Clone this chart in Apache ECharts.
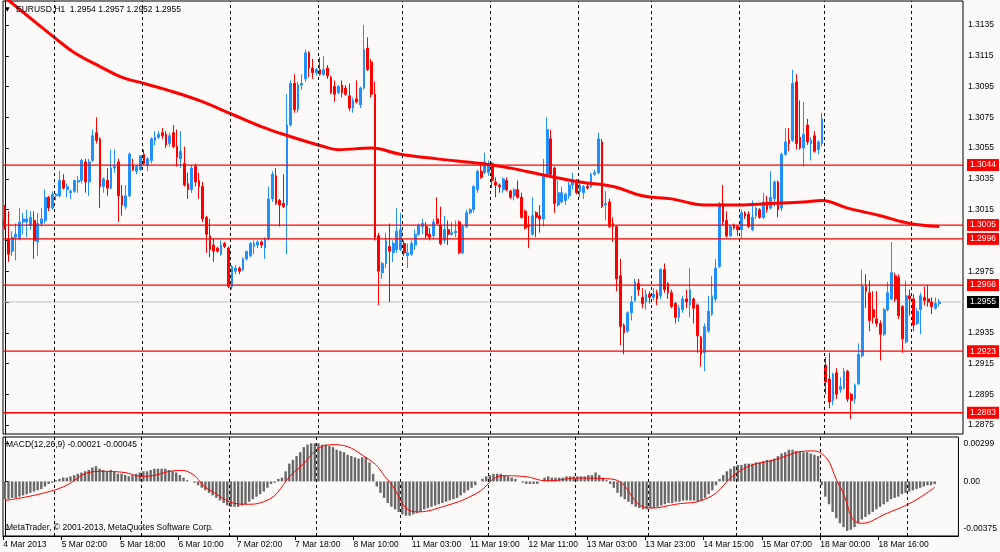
<!DOCTYPE html>
<html><head><meta charset="utf-8">
<script src="https://cdn.jsdelivr.net/npm/echarts@6/dist/echarts.min.js"></script>
<style>html,body{margin:0;padding:0;background:#fcfaf9;}#c{width:1000px;height:552px;}</style>
</head><body><div id="c"></div>
<script>
// ---- price data (EURUSD H1), bar 0 = 4 Mar 2013 10:00 ----
const opens=[1.3008,1.2996,1.2988,1.2997,1.2996,1.3007,1.3007,1.3005,1.3008,1.2994,
1.3006,1.3008,1.3023,1.3016,1.3024,1.3024,1.3034,1.3028,1.3026,1.3027,
1.3033,1.3034,1.3046,1.3033,1.3047,1.3065,1.3061,1.3030,1.3034,1.3029,
1.3042,1.3046,1.3024,1.3017,1.3024,1.3044,1.3040,1.3041,1.3051,1.3044,
1.3047,1.3060,1.3062,1.3065,1.3064,1.3058,1.3065,1.3056,1.3048,1.3045,
1.3032,1.3028,1.3043,1.3034,1.3030,1.3010,1.2998,1.2992,1.2990,1.2986,
1.2993,1.2990,1.2965,1.2975,1.2977,1.2976,1.2983,1.2985,1.2991,1.2992,
1.2994,1.2990,1.2996,1.3022,1.3037,1.3021,1.3019,1.3018,1.3070,1.3097,
1.3080,1.3096,1.3100,1.3117,1.3107,1.3104,1.3106,1.3103,1.3107,1.3101,
1.3095,1.3091,1.3096,1.3094,1.3089,1.3081,1.3087,1.3083,1.3094,1.3120,
1.3111,1.3090,1.2998,1.2974,1.2980,1.2991,1.2987,1.2989,1.2989,1.2993,
1.2985,1.2986,1.2992,1.2999,1.3004,1.3004,1.2999,1.2998,1.3009,1.3005,
1.2995,1.3002,1.2999,1.3000,1.3007,1.2987,1.3004,1.3013,1.3015,1.3028,
1.3040,1.3039,1.3039,1.3045,1.3033,1.3031,1.3028,1.3034,1.3027,1.3024,
1.3028,1.3023,1.3014,1.3005,1.2999,1.3013,1.3011,1.3009,1.3038,1.3061,
1.3042,1.3018,1.3020,1.3021,1.3024,1.3031,1.3033,1.3027,1.3026,1.3030,
1.3030,1.3038,1.3039,1.3059,1.3018,1.3020,1.3006,1.3004,1.2972,1.2940,
1.2936,1.2948,1.2956,1.2967,1.2958,1.2955,1.2960,1.2958,1.2961,1.2959,
1.2976,1.2967,1.2961,1.2954,1.2945,1.2950,1.2957,1.2953,1.2957,1.2953,
1.2932,1.2922,1.2936,1.2947,1.2957,1.2978,1.3019,1.3008,1.2998,1.3005,
1.3004,1.3002,1.3013,1.3012,1.3002,1.3011,1.3015,1.3010,1.3020,1.3016,
1.3022,1.3033,1.3016,1.3051,1.3060,1.3060,1.3098,1.3062,1.3055,1.3070,
1.3058,1.3063,1.3054,1.3058,1.2914,1.2905,1.2891,1.2909,1.2898,1.2899,
1.2910,1.2895,1.2892,1.2902,1.2920,1.2965,1.2961,1.2950,1.2944,1.2941,
1.2934,1.2950,1.2957,1.2972,1.2971,1.2952,1.2929,1.2959,1.2957,1.2941,
1.2950,1.2958,1.2957,1.2955,1.2951,1.2954];
const highs=[1.3018,1.3014,1.3001,1.3006,1.3016,1.3013,1.3015,1.3014,1.3014,1.3013,
1.3016,1.3028,1.3024,1.3027,1.3026,1.3040,1.3038,1.3032,1.3028,1.3034,
1.3037,1.3048,1.3048,1.3048,1.3067,1.3075,1.3062,1.3036,1.3042,1.3054,
1.3054,1.3048,1.3031,1.3031,1.3052,1.3048,1.3044,1.3050,1.3054,1.3049,
1.3062,1.3066,1.3066,1.3068,1.3066,1.3065,1.3070,1.3067,1.3066,1.3056,
1.3039,1.3044,1.3045,1.3039,1.3033,1.3011,1.3009,1.2996,1.2991,1.2995,
1.2994,1.2991,1.2979,1.2979,1.2978,1.2984,1.2988,1.2994,1.2995,1.2995,
1.2995,1.2997,1.3030,1.3040,1.3042,1.3022,1.3038,1.3090,1.3099,1.3103,
1.3098,1.3103,1.3119,1.3118,1.3113,1.3107,1.3114,1.3115,1.3109,1.3102,
1.3099,1.3096,1.3099,1.3096,1.3097,1.3088,1.3099,1.3095,1.3135,1.3127,
1.3113,1.3098,1.3000,1.2981,1.3000,1.3006,1.2995,1.3016,1.3013,1.2995,
1.2993,1.2995,1.3002,1.3006,1.3009,1.3007,1.3003,1.3009,1.3023,1.3017,
1.3011,1.3008,1.3007,1.3008,1.3008,1.3005,1.3015,1.3016,1.3031,1.3041,
1.3045,1.3052,1.3047,1.3046,1.3036,1.3032,1.3036,1.3036,1.3028,1.3029,
1.3034,1.3026,1.3015,1.3011,1.3023,1.3014,1.3018,1.3048,1.3075,1.3067,
1.3043,1.3034,1.3030,1.3026,1.3033,1.3039,1.3035,1.3033,1.3031,1.3032,
1.3039,1.3041,1.3065,1.3061,1.3027,1.3022,1.3010,1.3005,1.2983,1.2941,
1.2949,1.2959,1.2970,1.2970,1.2964,1.2963,1.2962,1.2964,1.2963,1.2977,
1.2980,1.2968,1.2963,1.2955,1.2953,1.2959,1.2963,1.2977,1.2958,1.2954,
1.2933,1.2941,1.2959,1.2972,1.2983,1.3020,1.3031,1.3014,1.3005,1.3006,
1.3005,1.3015,1.3014,1.3014,1.3021,1.3017,1.3016,1.3026,1.3024,1.3040,
1.3034,1.3034,1.3052,1.3068,1.3068,1.3106,1.3103,1.3086,1.3085,1.3074,
1.3062,1.3066,1.3060,1.3078,1.2919,1.2922,1.2909,1.2912,1.2906,1.2912,
1.2911,1.2896,1.2902,1.2928,1.2976,1.2973,1.2969,1.2962,1.2962,1.2943,
1.2951,1.2968,1.2994,1.2974,1.2973,1.2953,1.2969,1.2963,1.2960,1.2951,
1.2961,1.2965,1.2966,1.2958,1.2958,1.2957];
const lows=[1.3002,1.2981,1.2985,1.2982,1.2995,1.2999,1.2997,1.3002,1.2983,1.2985,
1.3004,1.3006,1.3014,1.3015,1.3021,1.3023,1.3028,1.3023,1.3022,1.3026,
1.3026,1.3032,1.3026,1.3024,1.3046,1.3058,1.3016,1.3026,1.3024,1.3028,
1.3039,1.3007,1.3011,1.3015,1.3023,1.3040,1.3038,1.3040,1.3044,1.3040,
1.3045,1.3057,1.3061,1.3061,1.3055,1.3056,1.3055,1.3043,1.3042,1.3030,
1.3022,1.3026,1.3030,1.3022,1.3007,1.2987,1.2984,1.2981,1.2987,1.2985,
1.2990,1.2964,1.2963,1.2973,1.2973,1.2975,1.2982,1.2984,1.2986,1.2990,
1.2990,1.2983,1.2995,1.3020,1.3018,1.3004,1.3016,1.2986,1.3069,1.3078,
1.3078,1.3093,1.3098,1.3101,1.3100,1.3102,1.3102,1.3102,1.3100,1.3090,
1.3085,1.3090,1.3088,1.3089,1.3079,1.3078,1.3084,1.3081,1.3093,1.3105,
1.3088,1.2995,1.2953,1.2970,1.2977,1.2955,1.2981,1.2987,1.2988,1.2985,
1.2977,1.2985,1.2989,1.2998,1.2999,1.2996,1.2995,1.2996,1.3006,1.2992,
1.2993,1.2992,1.2998,1.2997,1.2986,1.2986,1.3003,1.3012,1.3013,1.3026,
1.3035,1.3038,1.3037,1.3029,1.3023,1.3026,1.3026,1.3027,1.3022,1.3021,
1.3022,1.3009,1.3002,1.2990,1.2998,1.2997,1.3000,1.3004,1.3037,1.3037,
1.3013,1.3017,1.3019,1.3018,1.3022,1.3028,1.3025,1.3023,1.3022,1.3028,
1.3029,1.3037,1.3038,1.3016,1.3008,1.3003,1.2994,1.2962,1.2927,1.2921,
1.2935,1.2943,1.2955,1.2959,1.2951,1.2950,1.2954,1.2956,1.2953,1.2957,
1.2961,1.2957,1.2951,1.2941,1.2942,1.2948,1.2951,1.2945,1.2941,1.2922,
1.2913,1.2910,1.2935,1.2946,1.2955,1.2977,1.3005,1.2997,1.2997,1.3002,
1.2998,1.2996,1.3009,1.3003,1.3001,1.3009,1.3009,1.3009,1.3013,1.3015,
1.3017,1.3010,1.3014,1.3050,1.3053,1.3059,1.3054,1.3054,1.3043,1.3057,
1.3047,1.3052,1.3051,1.3056,1.2895,1.2886,1.2888,1.2892,1.2896,1.2898,
1.2890,1.2879,1.2889,1.2901,1.2919,1.2951,1.2936,1.2941,1.2939,1.2917,
1.2933,1.2949,1.2956,1.2955,1.2944,1.2922,1.2928,1.2946,1.2936,1.2940,
1.2934,1.2953,1.2952,1.2947,1.2950,1.2952];
const closes=[1.3004,1.2986,1.2997,1.2999,1.3007,1.3009,1.3009,1.3010,1.2995,1.3006,
1.3009,1.3023,1.3016,1.3025,1.3025,1.3034,1.3029,1.3030,1.3027,1.3034,
1.3034,1.3047,1.3033,1.3046,1.3063,1.3060,1.3030,1.3035,1.3029,1.3042,
1.3043,1.3024,1.3018,1.3024,1.3051,1.3041,1.3043,1.3050,1.3045,1.3048,
1.3061,1.3062,1.3064,1.3063,1.3057,1.3063,1.3056,1.3049,1.3053,1.3031,
1.3028,1.3042,1.3033,1.3030,1.3009,1.2999,1.2989,1.2988,1.2988,1.2992,
1.2991,1.2965,1.2978,1.2977,1.2975,1.2983,1.2988,1.2993,1.2993,1.2994,
1.2992,1.2996,1.3022,1.3038,1.3019,1.3018,1.3017,1.3070,1.3097,1.3080,
1.3096,1.3097,1.3117,1.3107,1.3104,1.3106,1.3103,1.3106,1.3102,1.3091,
1.3090,1.3095,1.3091,1.3090,1.3081,1.3086,1.3085,1.3094,1.3119,1.3106,
1.3090,1.2997,1.2975,1.2980,1.2995,1.2988,1.2993,1.3001,1.3002,1.2987,
1.2987,1.2993,1.2999,1.3005,1.3006,1.2998,1.2997,1.3007,1.3006,1.2993,
1.3002,1.2999,1.3000,1.3001,1.2987,1.3004,1.3013,1.3015,1.3030,1.3040,
1.3036,1.3046,1.3045,1.3034,1.3031,1.3030,1.3035,1.3028,1.3023,1.3028,
1.3023,1.3010,1.3003,1.3004,1.3011,1.3010,1.3009,1.3038,1.3067,1.3038,
1.3019,1.3026,1.3026,1.3025,1.3031,1.3033,1.3026,1.3031,1.3030,1.3029,
1.3038,1.3039,1.3061,1.3017,1.3019,1.3004,1.3004,1.2970,1.2939,1.2935,
1.2948,1.2955,1.2968,1.2963,1.2954,1.2960,1.2958,1.2960,1.2957,1.2976,
1.2963,1.2961,1.2952,1.2945,1.2951,1.2957,1.2955,1.2963,1.2951,1.2933,
1.2921,1.2939,1.2949,1.2959,1.2977,1.3019,1.3007,1.2998,1.3004,1.3003,
1.3002,1.3013,1.3011,1.3004,1.3010,1.3016,1.3010,1.3020,1.3015,1.3023,
1.3033,1.3015,1.3051,1.3059,1.3058,1.3097,1.3058,1.3055,1.3064,1.3059,
1.3060,1.3053,1.3059,1.3074,1.2903,1.2890,1.2908,1.2895,1.2900,1.2910,
1.2892,1.2891,1.2901,1.2921,1.2965,1.2962,1.2943,1.2945,1.2941,1.2934,
1.2950,1.2961,1.2974,1.2957,1.2946,1.2931,1.2959,1.2957,1.2940,1.2949,
1.2959,1.2956,1.2955,1.2952,1.2954,1.2955];
// 200-period moving average, read at sparse bars: [bar, value]
const maPoints=[[0,1.3153],[14,1.3126],[19,1.3117],[26,1.3108],[32,1.3101],[38,1.3097],[44,1.3093],
[53,1.3086],[62,1.3077],[70,1.3069],[76,1.3064],[87,1.3056],[91,1.3054],[100,1.3055],[108,1.3051],
[118,1.3048],[130,1.3045],[138,1.3042],[148,1.3037],[157,1.3033],[166,1.3030],[174,1.3024],
[182,1.3022],[191,1.3018],[200,1.3018],[209,1.3019],[218,1.3020],[223,1.3021],[230,1.3016],
[239,1.3011],[247,1.3006],[255,1.3004]];
// horizontal levels
const levels=[1.3044,1.3005,1.2996,1.2966,1.2923,1.2883];
const bidPrice=1.2955;
// MACD(12,26,9) histogram per bar
const macdHist=[-0.0014,-0.0014,-0.0013,-0.0013,-0.0012,-0.0011,-0.0010,-0.0009,-0.0008,-0.0007,-0.0006,-0.0004,-0.0002,-0.0001,
0.0001,0.0002,0.0003,0.0003,0.0004,0.0005,0.0006,0.0007,0.0008,0.0009,0.0011,0.0012,0.0010,0.0009,0.0008,0.0009,0.0008,0.0006,0.0006,0.0005,
0.0004,0.0005,0.0006,0.0007,0.0008,0.0008,0.0009,0.0010,0.0010,0.0010,0.0010,0.0009,0.0008,0.0007,0.0005,0.0003,0.0001,0.0000,
-0.0001,-0.0003,-0.0005,-0.0007,-0.0009,-0.0011,-0.0013,-0.0015,-0.0017,-0.0019,-0.0020,-0.0020,-0.0020,-0.0019,-0.0018,-0.0016,-0.0014,-0.0012,-0.0010,-0.0008,-0.0005,-0.0002,-0.0001,
0.0002,0.0003,0.0008,0.0014,0.0017,0.0020,0.0023,0.0027,0.0029,0.0030,0.0030,0.0030,0.0029,0.0029,0.0028,0.0027,0.0025,0.0024,0.0023,0.0021,0.0020,0.0019,0.0018,0.0019,0.0019,0.0015,
0.0006,-0.0004,-0.0009,-0.0013,-0.0017,-0.0020,-0.0022,-0.0024,-0.0026,-0.0027,-0.0027,-0.0026,-0.0025,-0.0024,-0.0022,-0.0021,-0.0020,-0.0019,-0.0018,-0.0017,
-0.0016,-0.0015,-0.0014,-0.0013,-0.0011,-0.0009,-0.0007,-0.0005,-0.0003,0.0000,
0.0002,0.0004,0.0005,0.0006,0.0006,0.0006,0.0005,0.0004,0.0003,0.0002,0.0000,-0.0001,-0.0002,-0.0002,-0.0002,-0.0002,0.0000,0.0003,0.0004,0.0003,
0.0003,0.0003,0.0003,0.0004,0.0004,0.0004,0.0004,0.0004,0.0004,0.0005,0.0005,0.0007,0.0005,0.0003,0.0001,
-0.0002,-0.0005,-0.0009,-0.0012,-0.0014,-0.0016,-0.0018,-0.0020,-0.0021,-0.0022,-0.0022,-0.0021,-0.0021,-0.0020,-0.0019,-0.0018,-0.0017,-0.0017,-0.0016,-0.0016,
-0.0015,-0.0015,-0.0015,-0.0015,-0.0016,-0.0015,-0.0013,-0.0010,-0.0007,-0.0003,
0.0002,0.0005,0.0008,0.0010,0.0012,0.0013,0.0013,0.0014,0.0014,0.0014,0.0015,0.0015,0.0016,0.0017,0.0017,0.0018,0.0020,0.0022,0.0023,0.0025,
0.0025,0.0024,0.0024,0.0023,0.0023,0.0022,0.0021,0.0020,
-0.0003,-0.0012,-0.0018,-0.0024,-0.0029,-0.0033,-0.0036,-0.0039,-0.0038,-0.0036,-0.0033,-0.0030,-0.0028,-0.0026,-0.0024,-0.0022,-0.0020,-0.0018,-0.0016,-0.0014,
-0.0013,-0.0012,-0.0010,-0.0009,-0.0008,-0.0007,-0.0006,-0.0005,-0.0004,-0.0003,-0.0003,-0.00021];
// MACD signal line, read at sparse bars: [bar, value]
const macdSignal=[[0,-0.0015],[14,-0.00065],[26,0.0008],[32,0.00073],[38,0.0004],[48,0.00086],[51,0.00065],
[56,-0.00065],[66,-0.0018],[71,-0.0016],[80,0.0009],[90,0.0029],[100,0.0017],[105,0.00013],[113,-0.0024],
[120,-0.002],[129,-0.001],[137,0.00045],[142,0.0004],[149,0.00005],[157,0.00026],[166,0.0002],[177,-0.0021],
[184,-0.0018],[192,-0.0014],[202,0.0009],[211,0.0017],[221,0.0024],[224,0.0022],[229,-0.0004],[235,-0.0033],
[242,-0.0025],[249,-0.0016],[255,-0.00045]];
// first bar of each new day (period separators)
const daySeparators=[14,38,62,86,109,133,157,177,201,224,248];
// time-axis labels, one every 16 bars
const tickBars=[0,16,32,48,64,80,96,112,128,144,160,176,192,208,224,240];
const tickLabels=['4 Mar 2013','5 Mar 02:00','5 Mar 18:00','6 Mar 10:00','7 Mar 02:00','7 Mar 18:00',
'8 Mar 10:00','11 Mar 03:00','11 Mar 19:00','12 Mar 11:00','13 Mar 03:00','13 Mar 23:00',
'14 Mar 15:00','15 Mar 07:00','18 Mar 00:00','18 Mar 16:00'];
const priceTicks=[1.2875,1.2895,1.2915,1.2935,1.2955,1.2975,1.2995,1.3015,1.3035,1.3055,1.3075,1.3095,1.3115,1.3135];
const priceLabels=[1.2875,1.2895,1.2915,1.2935,1.2975,1.3015,1.3035,1.3055,1.3075,1.3095,1.3115,1.3135];
const macdLabels=[0.00299,0,-0.00375];
const titleText='EURUSD,H1  1.2954 1.2957 1.2952 1.2955';
const macdText='MACD(12,26,9) -0.00021 -0.00045';
const copyText='MetaTrader, \u00a9 2001-2013, MetaQuotes Software Corp.';

const N=262;
const FONT='"Liberation Sans", Arial, sans-serif';
const FS=8.5;
const cats=Array.from({length:N},(_,i)=>i);
const candleData=opens.map((o,i)=>[o,closes[i],lows[i],highs[i]]);
const tickPos=tickBars.map(b=>b-0.4);
const sepLine={symbol:['none','none'],silent:true,animation:false,label:{show:false},
  lineStyle:{color:'#000',width:1,type:[3,3]},data:daySeparators.map(d=>({xAxis:d-0.5}))};

function levelSeries(v,lineColor,boxColor,z,w){
  return {type:'line',xAxisIndex:1,yAxisIndex:0,data:[[-0.5,v],[N-0.5,v]],showSymbol:false,symbol:'none',
    silent:true,clip:false,z:z,lineStyle:{color:lineColor,width:w,type:'solid'},
    endLabel:{show:true,distance:4,formatter:p=>p.value[1].toFixed(4),color:'#fff',backgroundColor:boxColor,
      padding:[2,3,1,3],fontSize:FS,fontFamily:FONT}};
}
const levelSeriesList=levels.map(v=>levelSeries(v,'#ff0000','#ff0000',5,1.3));
levelSeriesList.push(levelSeries(bidPrice,'#c0c0c0','#000000',1,1));

const chart=echarts.init(document.getElementById('c'),null,{renderer:'canvas'});
chart.setOption({
  animation:false,
  backgroundColor:'#fcfaf9',
  grid:[{left:3,top:1,width:960,height:433,show:true,borderColor:'#000',borderWidth:1,backgroundColor:'transparent'},
        {left:3,top:437,width:960,height:99,show:true,borderColor:'#000',borderWidth:1,backgroundColor:'transparent'}],
  xAxis:[
    {type:'category',gridIndex:0,data:cats,boundaryGap:true,axisLine:{show:false},axisTick:{show:false},axisLabel:{show:false},splitLine:{show:false}},
    {type:'value',gridIndex:0,min:-0.5,max:N-0.5,show:false,splitLine:{show:false}},
    {type:'category',gridIndex:1,data:cats,boundaryGap:true,axisLine:{show:false},axisTick:{show:false},axisLabel:{show:false},splitLine:{show:false}},
    {type:'value',gridIndex:1,min:-0.5,max:N-0.5,position:'bottom',splitLine:{show:false},
      axisLine:{show:true,lineStyle:{color:'#000'}},
      axisTick:{show:true,length:4,customValues:tickPos,lineStyle:{color:'#000'}},
      axisLabel:{show:true,customValues:tickPos,align:'left',margin:4,color:'#000',fontSize:FS,fontFamily:FONT,
        formatter:v=>{const k=tickPos.findIndex(t=>Math.abs(t-v)<0.01);return k>=0?tickLabels[k]:'';}}}
  ],
  yAxis:[
    {type:'value',gridIndex:0,min:1.28692,max:1.31506,position:'right',splitLine:{show:false},
      axisLine:{show:true,lineStyle:{color:'#000'}},
      axisTick:{show:true,length:4,customValues:priceTicks,lineStyle:{color:'#000'}},
      axisLabel:{show:true,customValues:priceLabels,margin:5,color:'#000',fontSize:FS,fontFamily:FONT,formatter:v=>v.toFixed(4)}},
    {type:'value',gridIndex:1,min:-0.0043,max:0.0035,position:'right',splitLine:{show:false},
      axisLine:{show:true,lineStyle:{color:'#000'}},
      axisTick:{show:true,length:4,customValues:macdLabels,lineStyle:{color:'#000'}},
      axisLabel:{show:true,customValues:macdLabels,margin:5,color:'#000',fontSize:FS,fontFamily:FONT,
        formatter:v=>Math.abs(v)<1e-9?'0.00':v.toFixed(5)}}
  ],
  series:[
    {type:'candlestick',xAxisIndex:0,yAxisIndex:0,data:candleData,barWidth:2.3,
      itemStyle:{color:'#1e90ff',color0:'#ff0000',borderColor:'#1e90ff',borderColor0:'#ff0000',borderWidth:1},z:3},
    {type:'line',xAxisIndex:1,yAxisIndex:0,data:maPoints,smooth:0.4,showSymbol:false,symbol:'none',
      lineStyle:{color:'#ff0000',width:3},markLine:sepLine,z:4},
    ...levelSeriesList,
    {type:'bar',xAxisIndex:2,yAxisIndex:1,data:macdHist,barWidth:2.4,itemStyle:{color:'#686868'},z:2},
    {type:'line',xAxisIndex:3,yAxisIndex:1,data:macdSignal,smooth:0.5,showSymbol:false,symbol:'none',
      lineStyle:{color:'#ff0000',width:1},markLine:sepLine,z:4}
  ],
  graphic:[
    {type:'text',left:5,top:6,style:{text:'\u25bc',font:'6px "DejaVu Sans"',fill:'#000'},z:100},
    {type:'text',left:16,top:5,style:{text:titleText,font:FS+'px '+FONT,fill:'#000'},z:100},
    {type:'text',left:6,top:440,style:{text:macdText,font:FS+'px '+FONT,fill:'#000'},z:100},
    {type:'text',left:6,top:523,style:{text:copyText,font:FS+'px '+FONT,fill:'#000'},z:100}
  ]
});
</script></body></html>
